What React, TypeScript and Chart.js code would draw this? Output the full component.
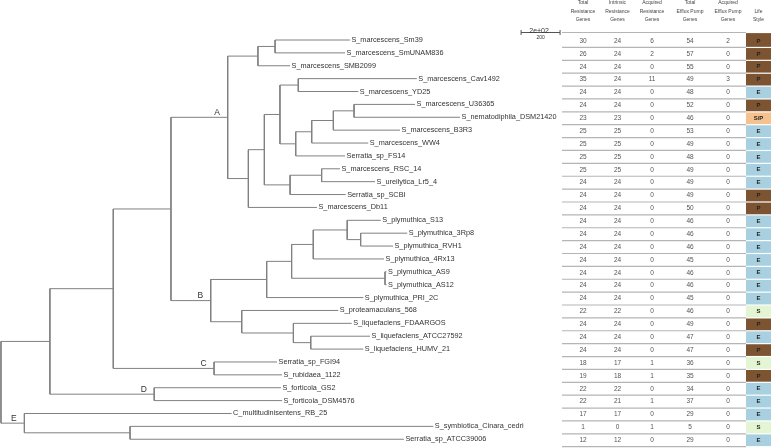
import React, { useEffect, useRef } from "react";
import { Chart, registerables } from "chart.js";

Chart.register(...registerables);

// Newick clades; the number after ':' is the node's distance from the root
const CLADE_A =
  "(((S_marcescens_Sm39:1790,S_marcescens_SmUNAM836:1765):1406,S_marcescens_SMB2099:1483):1318," +
  "((((S_marcescens_Cav1492:2133,S_marcescens_YD25:1833):1525,((((S_marcescens_U36365:2124,S_nematodiphila_DSM21420:2355):1811,S_marcescens_B3R3:2047):1705,S_marcescens_WW4:1884):1594,Serratia_sp_FS14:1765):1512):1431," +
  "((S_marcescens_RSC_14:1739,S_ureilytica_Lr5_4:1919):1645,Serratia_sp_SCBI:1768):1483):1351,S_marcescens_Db11:1621):1269)A:1163";
const CLADE_B =
  "(((((S_plymuthica_S13:1948,(S_plymuthica_3Rp8:2084,S_plymuthica_RVH1:2011):1845):1776,S_plymuthica_4Rx13:1965):1602,(S_plymuthica_AS9:1978,S_plymuthica_AS12:1978):1970):1491,S_plymuthica_PRI_2C:1859):1363," +
  "(S_proteamaculans_568:1730,(S_liquefaciens_FDAARGOS:1799,(S_liquefaciens_ATCC27592:1893,S_liquefaciens_HUMV_21:1859):1589):1500):1235)B:1076";
const CLADE_C = "(Serratia_sp_FGI94:1416,S_rubidaea_1122:1442)C:1093";
const CLADE_D = "(S_forticola_GS2:1436,S_forticola_DSM4576:1442)D:786";
const CLADE_E = "(C_multitudinisentens_RB_25:1183,(S_symbiotica_Cinara_cedri:2218,Serratia_sp_ATCC39006:2067):662)E:120";
const TREE_NEWICK = `((((${CLADE_A},${CLADE_B}):872,${CLADE_C}):576,${CLADE_D}):251,${CLADE_E}):0;`;

const SCALE_BAR_VALUE = 200;
const SCALE_BAR_LABEL = "2e+02";
const SCALE_BAR_START = 2668;

const HEADERS = [
  ["Total", "Resistance", "Genes"],
  ["Intrinsic", "Resistance", "Genes"],
  ["Acquired", "Resistance", "Genes"],
  ["Total", "Efflux Pump", "Genes"],
  ["Acquired", "Efflux Pump", "Genes"],
  ["", "Life", "Style"],
];
const TOTAL_RESISTANCE = [30, 26, 24, 35, 24, 24, 23, 25, 25, 25, 25, 24, 24, 24, 24, 24, 24, 24, 24, 24, 24, 22, 24, 24, 24, 18, 19, 22, 22, 17, 1, 12];
const INTRINSIC_RESISTANCE = [24, 24, 24, 24, 24, 24, 23, 25, 25, 25, 25, 24, 24, 24, 24, 24, 24, 24, 24, 24, 24, 22, 24, 24, 24, 17, 18, 22, 21, 17, 0, 12];
const ACQUIRED_RESISTANCE = [6, 2, 0, 11, 0, 0, 0, 0, 0, 0, 0, 0, 0, 0, 0, 0, 0, 0, 0, 0, 0, 0, 0, 0, 0, 1, 1, 0, 1, 0, 1, 0];
const TOTAL_EFFLUX = [54, 57, 55, 49, 48, 52, 46, 53, 49, 48, 49, 49, 49, 50, 46, 46, 46, 45, 46, 46, 45, 46, 49, 47, 47, 36, 35, 34, 37, 29, 5, 29];
const ACQUIRED_EFFLUX = [2, 0, 0, 3, 0, 0, 0, 0, 0, 0, 0, 0, 0, 0, 0, 0, 0, 0, 0, 0, 0, 0, 0, 0, 0, 0, 0, 0, 0, 0, 0, 0];
const LIFE_STYLE = ["P", "P", "P", "P", "E", "P", "S/P", "E", "E", "E", "E", "E", "P", "P", "E", "E", "E", "E", "E", "E", "E", "S", "P", "E", "P", "S", "P", "E", "E", "E", "S", "E"];

const LIFE_COLORS: Record<string, string> = { P: "#7d5432", E: "#a9d0e0", S: "#e3f5d2", "S/P": "#f5c28f" };

type TNode = { name: string; depth: number; children: TNode[]; y: number };

function parseNewick(s: string): TNode {
  let i = 0;
  const parseNode = (): TNode => {
    const node: TNode = { name: "", depth: 0, children: [], y: 0 };
    if (s[i] === "(") {
      i++;
      node.children.push(parseNode());
      while (s[i] === ",") {
        i++;
        node.children.push(parseNode());
      }
      i++;
    }
    let name = "";
    while (i < s.length && !",():;".includes(s[i])) name += s[i++];
    node.name = name;
    if (s[i] === ":") {
      i++;
      let num = "";
      while (i < s.length && !",();".includes(s[i])) num += s[i++];
      node.depth = parseFloat(num);
    }
    return node;
  };
  return parseNode();
}

export default function App() {
  const ref = useRef<HTMLCanvasElement>(null);
  useEffect(() => {
    document.body.style.margin = "0";
    const root = parseNewick(TREE_NEWICK);
    const leaves: TNode[] = [];
    const internals: TNode[] = [];
    const walk = (n: TNode) => {
      if (n.children.length === 0) {
        n.y = leaves.length;
        leaves.push(n);
      } else {
        n.children.forEach(walk);
        n.y = (n.children[0].y + n.children[n.children.length - 1].y) / 2;
        internals.push(n);
      }
    };
    walk(root);

    const datasets = internals.map((n) => {
      const a = n.children[0];
      const b = n.children[n.children.length - 1];
      return {
        type: "line" as const,
        data: [
          { x: a.depth, y: a.y },
          { x: n.depth, y: a.y },
          { x: n.depth, y: b.y },
          { x: b.depth, y: b.y },
        ],
        borderColor: "#808080",
        borderWidth: 1,
        pointRadius: 0,
        tension: 0,
        fill: false,
      };
    });

    const font = "'Liberation Sans', Arial, sans-serif";
    const plugin = {
      id: "treeTable",
      afterDraw(chart: any) {
        const ctx = chart.ctx as CanvasRenderingContext2D;
        const xs = chart.scales.x;
        const ys = chart.scales.y;
        ctx.save();
        // leaf labels
        ctx.fillStyle = "#333";
        ctx.font = `7.3px ${font}`;
        ctx.textBaseline = "middle";
        ctx.textAlign = "left";
        leaves.forEach((l) => {
          ctx.fillText(l.name, xs.getPixelForValue(l.depth) + 1.5, ys.getPixelForValue(l.y));
        });
        // clade labels
        ctx.font = `8.5px ${font}`;
        ctx.textAlign = "center";
        ctx.textBaseline = "alphabetic";
        internals.forEach((n) => {
          if (n.name) {
            ctx.fillText(n.name, xs.getPixelForValue(n.depth) - 10.5, ys.getPixelForValue(n.y) - 2.5);
          }
        });
        // scale bar
        const sx0 = xs.getPixelForValue(SCALE_BAR_START);
        const sx1 = xs.getPixelForValue(SCALE_BAR_START + SCALE_BAR_VALUE);
        const sy = 32.5;
        ctx.strokeStyle = "#555";
        ctx.lineWidth = 1;
        ctx.beginPath();
        ctx.moveTo(sx0, sy);
        ctx.lineTo(sx1, sy);
        ctx.moveTo(sx0, sy - 2.5);
        ctx.lineTo(sx0, sy + 2.5);
        ctx.moveTo(sx1, sy - 2.5);
        ctx.lineTo(sx1, sy + 2.5);
        ctx.stroke();
        ctx.fillStyle = "#333";
        ctx.font = `7px ${font}`;
        ctx.fillText(SCALE_BAR_LABEL, (sx0 + sx1) / 2 - 1.5, sy + 0.5);
        ctx.font = `5px ${font}`;
        ctx.textBaseline = "middle";
        ctx.fillText(String(SCALE_BAR_VALUE), (sx0 + sx1) / 2, sy + 5.5);

        // table
        const colX = [583, 617.5, 652, 690, 728, 758.5];
        const tableLeft = 562;
        const lifeLeft = 746;
        const right = 771;
        ctx.fillStyle = "#444";
        ctx.font = `5px ${font}`;
        HEADERS.forEach((h, c) => {
          h.forEach((t, r) => {
            if (t) ctx.fillText(t, colX[c], 2.8 + r * 8.6);
          });
        });
        const rowY = (k: number) => ys.getPixelForValue(k) + 1;
        const half = (ys.getPixelForValue(1) - ys.getPixelForValue(0)) / 2;
        const cols = [TOTAL_RESISTANCE, INTRINSIC_RESISTANCE, ACQUIRED_RESISTANCE, TOTAL_EFFLUX, ACQUIRED_EFFLUX];
        const n = LIFE_STYLE.length;
        for (let k = 0; k < n; k++) {
          const cy = rowY(k);
          const top = k === 0 ? cy - 8.5 : cy - half;
          const bot = cy + half;
          ctx.fillStyle = LIFE_COLORS[LIFE_STYLE[k]] || "#ccc";
          ctx.fillRect(lifeLeft, top + 0.6, right - lifeLeft, bot - top - 1.2);
          ctx.fillStyle = "#222";
          ctx.font = `bold 6px ${font}`;
          ctx.fillText(LIFE_STYLE[k], colX[5], cy);
          ctx.fillStyle = "#555";
          ctx.font = `6.5px ${font}`;
          cols.forEach((arr, c) => ctx.fillText(String(arr[k]), colX[c], cy));
        }
        ctx.strokeStyle = "#b5b5b5";
        ctx.lineWidth = 1.2;
        ctx.beginPath();
        for (let k = 0; k <= n; k++) {
          const ly = k === 0 ? rowY(0) - 8.5 : rowY(k) - half;
          ctx.moveTo(tableLeft, ly);
          ctx.lineTo(lifeLeft, ly);
        }
        ctx.stroke();
        ctx.restore();
      },
    };

    const chart = new Chart(ref.current as HTMLCanvasElement, {
      type: "scatter",
      data: { datasets: datasets as any },
      options: {
        responsive: false,
        animation: false,
        events: [],
        layout: { padding: 0 },
        plugins: { legend: { display: false }, tooltip: { enabled: false } },
        scales: {
          x: { type: "linear", display: false, min: -5, max: 3950 },
          y: { type: "linear", display: false, reverse: true, min: -3.106, max: 31.68 },
        },
      },
      plugins: [plugin],
    });
    return () => chart.destroy();
  }, []);
  return (
    <div style={{ width: 771, height: 448 }}>
      <canvas ref={ref} width={771} height={448} style={{ display: "block" }} />
    </div>
  );
}
